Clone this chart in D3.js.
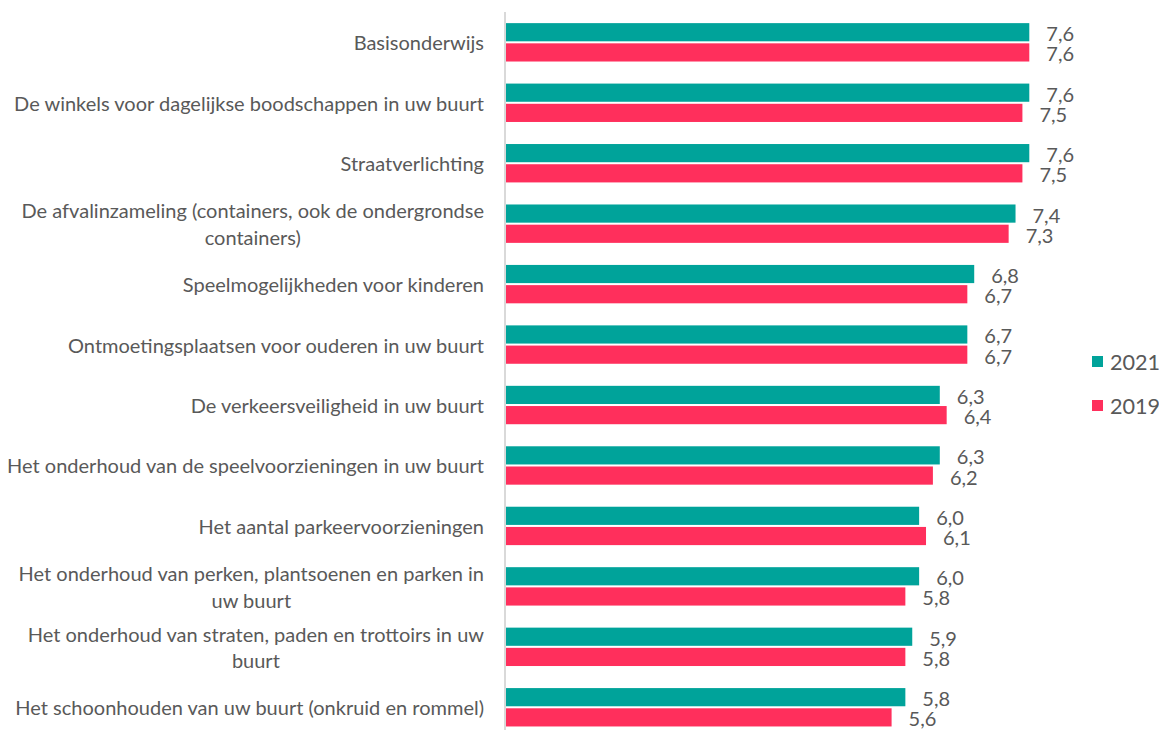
<!DOCTYPE html>
<html>
<head>
<meta charset="utf-8">
<script src="https://cdn.jsdelivr.net/npm/d3@7"></script>
<style>
  html, body { margin: 0; padding: 0; background: #fff; }
  svg { display: block; }
  text { font-family: Lato, "Open Sans", sans-serif; fill: #595959; }
</style>
</head>
<body>
<svg id="chart" width="1159" height="730"></svg>
<script>
// ---- data ----
const categories = [
  "Basisonderwijs",
  "De winkels voor dagelijkse boodschappen in uw buurt",
  "Straatverlichting",
  "De afvalinzameling (containers, ook de ondergrondse\ncontainers)",
  "Speelmogelijkheden voor kinderen",
  "Ontmoetingsplaatsen voor ouderen in uw buurt",
  "De verkeersveiligheid in uw buurt",
  "Het onderhoud van de speelvoorzieningen in uw buurt",
  "Het aantal parkeervoorzieningen",
  "Het onderhoud van perken, plantsoenen en parken in\nuw buurt",
  "Het onderhoud van straten, paden en trottoirs in uw\nbuurt",
  "Het schoonhouden van uw buurt (onkruid en rommel)"
];
const seriesNames = ["2021", "2019"];
const values2021 = [7.6, 7.6, 7.6, 7.4, 6.8, 6.7, 6.3, 6.3, 6.0, 6.0, 5.9, 5.8];
const values2019 = [7.6, 7.5, 7.5, 7.3, 6.7, 6.7, 6.4, 6.2, 6.1, 5.8, 5.8, 5.6];
const seriesColors = ["#00A39A", "#FF2F5C"];

// ---- layout ----
const svg = d3.select("#chart");
const axisX = 505;
const x = d3.scaleLinear().domain([0, 7.6]).range([506, 1029.3]);
const y = d3.scaleBand().domain(categories).range([12.1, 737.5]).paddingInner(0.365).paddingOuter(0.1825);
const ySub = d3.scaleBand().domain(seriesNames).range([0, y.bandwidth()]).paddingInner(0.1);
const seriesValues = { "2021": values2021, "2019": values2019 };
const fmt = v => v.toFixed(1).replace(".", ",");

// axis line
svg.append("line")
  .attr("x1", axisX).attr("x2", axisX)
  .attr("y1", 12).attr("y2", 730)
  .attr("stroke", "#d9d9d9").attr("stroke-width", 2);

// fit label font size so the longest single line spans ~469px
const labelFontBase = 18;
const probe = svg.append("text").style("font-size", labelFontBase + "px")
  .text("Het schoonhouden van uw buurt (onkruid en rommel)");
const probeW = probe.node().getComputedTextLength();
probe.remove();
const labelFont = labelFontBase * 469 / probeW;

// category labels
const labelRight = 484;
const lineH = labelFont * 1.33;
categories.forEach(cat => {
  const lines = cat.split("\n");
  const cy = y(cat) + y.bandwidth() / 2;
  const g = svg.append("g");
  if (lines.length === 1) {
    g.append("text").attr("x", labelRight).attr("y", cy)
      .attr("text-anchor", "end").attr("dominant-baseline", "central")
      .style("font-size", labelFont + "px").text(lines[0]);
  } else {
    const ts = lines.map((ln, i) => g.append("text")
      .attr("y", cy + (i - (lines.length - 1) / 2) * lineH)
      .attr("dominant-baseline", "central")
      .attr("text-anchor", "middle")
      .style("font-size", labelFont + "px").text(ln));
    const maxW = d3.max(ts, t => t.node().getComputedTextLength());
    const center = labelRight - maxW / 2;
    ts.forEach(t => t.attr("x", center));
  }
});

// bars + value labels
seriesNames.forEach((s, si) => {
  const vals = seriesValues[s];
  svg.append("g").selectAll("rect").data(categories).join("rect")
    .attr("x", x(0))
    .attr("y", (c) => y(c) + ySub(s))
    .attr("width", (c, i) => x(vals[i]) - x(0))
    .attr("height", ySub.bandwidth())
    .attr("fill", seriesColors[si]);
  svg.append("g").selectAll("text").data(categories).join("text")
    .attr("x", (c, i) => x(vals[i]) + 17)
    .attr("y", (c) => y(c) + ySub(s) + ySub.bandwidth() / 2 + 1)
    .attr("dominant-baseline", "central")
    .style("font-size", labelFont + "px")
    .text((c, i) => fmt(vals[i]));
});

// legend
const legY = [361.5, 405.5];
seriesNames.forEach((s, si) => {
  svg.append("rect").attr("x", 1092).attr("y", legY[si] - 5.5)
    .attr("width", 11).attr("height", 11).attr("fill", seriesColors[si]);
  svg.append("text").attr("x", 1110).attr("y", legY[si])
    .attr("dominant-baseline", "central")
    .style("font-size", (labelFont * 1.08) + "px").text(s);
});
</script>
</body>
</html>
